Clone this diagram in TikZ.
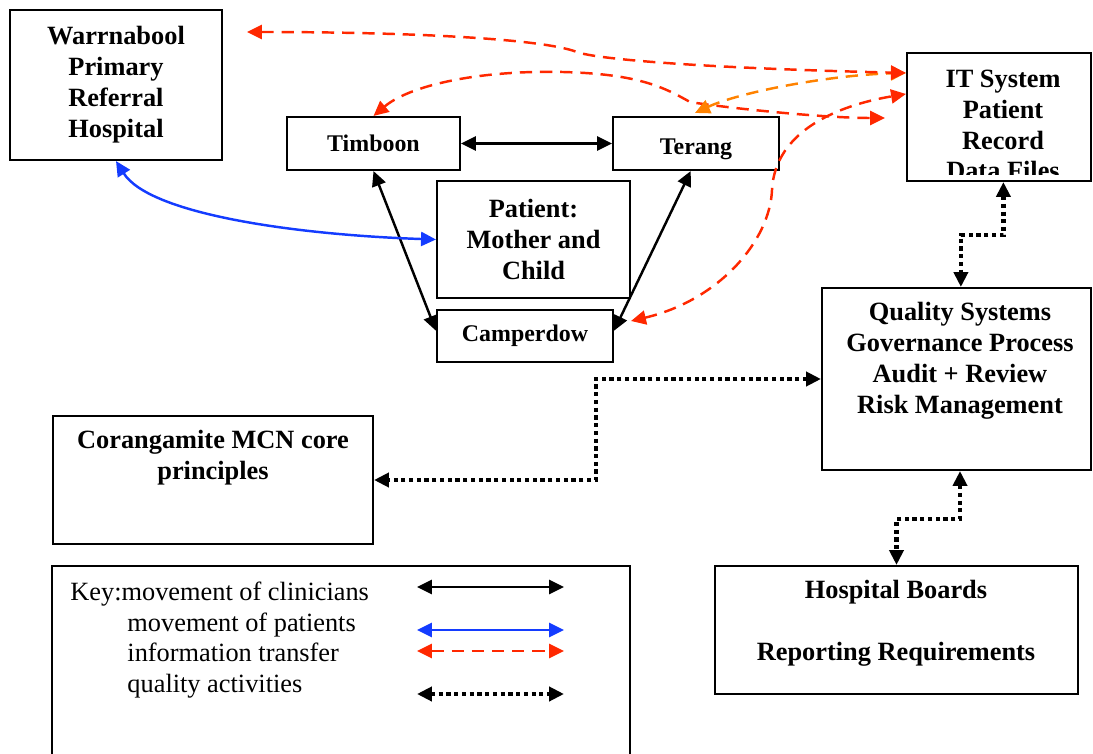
\documentclass[tikz,border=0pt]{standalone}
\usepackage{fontspec}
\setmainfont{Liberation Serif}
\usetikzlibrary{arrows.meta,calc}
\definecolor{infored}{RGB}{255,40,0}
\definecolor{infoorange}{RGB}{255,130,0}
\definecolor{patblue}{RGB}{20,60,255}

\begin{document}
\begin{tikzpicture}[x=0.02cm,y=-0.02cm,
    >={Triangle[length=8.5pt,width=8pt]},
    box/.style={draw,rectangle,line width=1.2pt,inner sep=0pt,align=center},
    bigbold/.style={font=\fontsize{15}{17.6}\selectfont\bfseries,align=center},
    smallbold/.style={font=\fontsize{13.6}{16}\selectfont\bfseries},
    clinician/.style={<->,line width=1.4pt},
    patientmove/.style={<->,line width=1.4pt,patblue},
    infoline/.style={<->,line width=1.4pt,infored,dash pattern=on 7pt off 4.5pt},
    qualityline/.style={<->,line width=2.6pt,dash pattern=on 2.4pt off 2pt}]
  \useasboundingbox (0,0) rectangle (1093,754);

  % sites
  \node[box,bigbold,minimum width=4.24cm,minimum height=3cm] (warr) at (116,85) {Warrnabool\\Primary\\Referral\\Hospital};
  \node[box,smallbold,minimum width=3.46cm,minimum height=1.06cm] (timboon) at (373.5,143.5) {Timboon};
  \node[box,smallbold,minimum width=3.32cm,minimum height=1.06cm] (terang) at (696,143.5) {\raisebox{-6pt}[0pt][0pt]{Terang}};
  \node[box,bigbold,minimum width=3.86cm,minimum height=2.34cm] (patient) at (533.5,239.5) {Patient:\\Mother and\\Child};
  \node[box,smallbold,minimum width=3.52cm,minimum height=1.04cm] (camp) at (525,336) {Camperdow};

  % systems
  \node[box,minimum width=3.68cm,minimum height=2.56cm] (it) at (999,117) {};
  \node[box,minimum width=5.38cm,minimum height=3.64cm] (quality) at (956.5,379) {};
  \node[box,minimum width=6.4cm,minimum height=2.56cm] (core) at (213,480) {};
  \node[box,minimum width=7.26cm,minimum height=2.56cm] (boards) at (896.5,630) {};
  \begin{scope}
    \clip (it.north west) rectangle ($(it.south east)+(0,-8)$);
    \node[bigbold] (itlabel) at (1003,125) {IT System\\Patient\\Record\\Data Files};
  \end{scope}
  \node[bigbold] (qualitylabel) at (960,361) {Quality Systems\\Governance Process\\Audit + Review\\Risk Management};
  \node[bigbold] (corelabel) at (213,458) {Corangamite MCN core\\principles};
  \node[bigbold] (boardslabel) at (896,623) {Hospital Boards\\[17.6pt]Reporting Requirements};

  % key
  \draw[line width=1.2pt] (52,754) |- (630,566) -- (630,754);
  \node[anchor=north west,inner sep=0pt,align=left,font=\fontsize{15}{17.3}\selectfont] (keytext) at (70,582)
    {Key:movement of clinicians\\\hspace*{32.5pt}movement of patients\\\hspace*{32.5pt}information transfer\\\hspace*{32.5pt}quality activities};
  \foreach \ky/\kstyle in {587/clinician,630/patientmove,651/infoline,694/qualityline}
    \draw[\kstyle] (417,\ky) -- (564,\ky);

  % clinicians and patients
  \draw[clinician] (timboon) -- (terang);
  \draw[clinician] (timboon.south) -- ([yshift=3pt]camp.west);
  \draw[clinician] ([xshift=-3pt]terang.south) -- ([yshift=3pt]camp.east);
  \draw[patientmove] (warr.south) .. controls (150,215) and (300,235) .. (patient.west);

  % information transfer
  \coordinate (warrinfo) at (247,32);
  \coordinate (itinfo) at (885,118);
  \coordinate (caminfo) at (631,321);
  \draw[infoline] (timboon.north) .. controls (410,85) and (480,70) .. (563,72)
    .. controls (640,74) and (665,88) .. (690,102) .. controls (720,107) and (820,118) .. (itinfo);
  \draw[infoline,infoorange] ($(terang.north)+(-1,-3)$) .. controls (740,92) and (830,75) .. ($(it.north west)+(0,21)$);
  \draw[infoline] (warrinfo) .. controls (400,32) and (540,38) .. (577,52)
    .. controls (595,59) and (700,68) .. ($(it.north west)+(0,21)$);
  \draw[infoline] (caminfo) .. controls (720,300) and (770,240) .. (772,190)
    .. controls (775,130) and (840,105) .. ($(it.north west)+(0,42)$);

  % quality activities
  \draw[qualityline] ([xshift=2.5pt]it.south) -- ++(0,53) -| ([xshift=2.5pt]quality.north);
  \draw[qualityline] (quality.west) -- ++(-225,0) |- (core.east);
  \draw[qualityline] ([xshift=2pt]quality.south) -- ++(0,48) -| (boards.north);
\end{tikzpicture}
\end{document}
